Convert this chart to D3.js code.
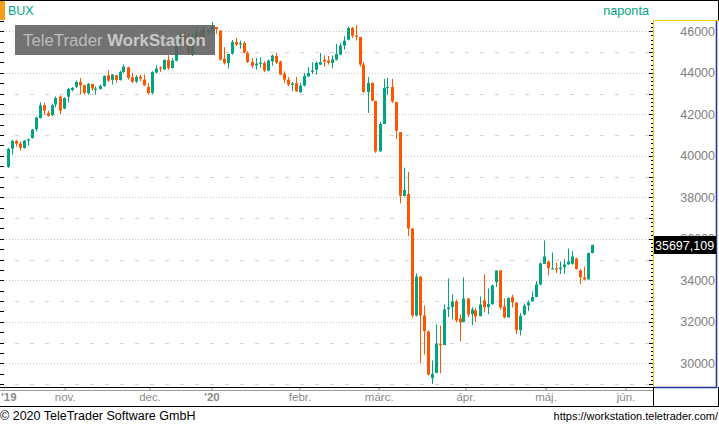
<!DOCTYPE html>
<html><head><meta charset="utf-8">
<script src="https://cdn.jsdelivr.net/npm/d3@7/dist/d3.min.js"></script>
<style>
body{margin:0;background:#fff;}
svg{display:block;}
text{font-family:"Liberation Sans",Arial,sans-serif;}
</style>
</head><body>
<svg id="c" width="719" height="425"></svg>
<script>
// ---- data (BUX daily candles) ----
const openV = [39464,40347,40716,40588,40379,40732,40861,41278,41824,42435,42065,41953,42467,42852,42274,42852,43174,43334,43559,43398,
43013,43463,43206,43222,43366,43880,43655,43880,43655,44041,44266,43784,43575,43816,43671,43318,43029,44009,44250,44169,
44619,44234,44583,45484,45822,45581,44872,45677,45966,45725,45966,46077,46207,46032,44683,44474,44924,45486,45374,45438,
44956,44522,44362,44458,44474,44105,44555,44812,44539,43960,43671,43446,43511,43061,43382,43832,44057,44153,44394,44635,
44587,44474,44635,44876,45309,45599,46161,45791,45727,44394,43077,43511,42643,40218,41535,43286,43318,42593,41147,38063,
38159,36498,32306,34185,32306,31535,29287,29528,30941,30877,32611,32708,32981,32162,31985,33125,32370,32547,32274,33029,
32708,32852,33912,34474,32740,32210,33190,32933,31600,32354,32788,32981,33190,33800,34796,34908,34539,34571,34539,34635,
34764,34796,35052,34474,34137,34041,35309];
const highV = [40380,40780,40764,40700,40764,40829,41294,41889,42579,42547,42178,42499,42852,42916,42820,43270,43318,43623,43752,43430,
43511,43479,43350,43430,43880,44105,43944,43912,44105,44394,44298,43993,43880,43912,43912,43511,44073,44362,44314,44651,
44844,44715,45450,46014,45981,45918,45918,46159,46111,46207,46077,46448,46207,46032,45229,44908,45582,45679,45550,45518,
45036,44715,44715,44747,44555,44635,44876,44972,44587,44073,43800,43559,43800,43511,43993,44266,44506,44555,44956,44844,
44812,44828,45390,45438,45759,46225,46209,46305,45727,44522,43800,43543,42643,41632,43703,43752,43703,42600,41147,39427,
39220,36498,34330,34185,32788,31584,30138,31873,31824,32836,34089,33318,33077,32354,34137,33125,32708,32676,33222,34282,
33607,33800,34474,34474,33125,33157,33302,32933,32419,32868,33029,33463,33960,34860,35920,34956,35342,34844,34908,35020,
35534,35406,35085,34555,34667,35342,35727];
const lowV = [39415,40058,40443,40251,40347,40491,40829,41182,41792,41985,41889,41921,42338,42017,42242,42563,43110,43270,42948,42948,
42948,43141,42948,43190,43318,43559,43430,43527,43623,43993,43671,43511,43511,43591,43366,42948,42981,43976,44041,44137,
44137,44201,44550,45099,45258,44858,44810,45581,45340,45677,45836,45884,45884,44587,44394,44201,44876,45293,45165,44940,
44474,44233,44153,44233,44041,44073,44346,44426,43880,43511,43350,43109,43077,43045,43350,43784,43944,43912,44378,44298,
44394,44233,44587,44844,45117,45566,45679,45550,44298,43029,42065,42627,40138,40186,41535,42933,42547,40810,37711,38029,
36135,32194,32258,30010,30427,29415,28998,29528,29528,30877,32226,32114,31985,31070,31985,32226,31840,31985,32258,32467,
32370,32820,33671,32579,32162,32210,32692,31407,31343,32290,32515,32981,33190,33752,34796,34233,34539,34346,34298,34298,
34747,34747,34523,33816,33993,34041,35309];
const closeV = [40331,40716,40588,40379,40732,40797,41262,41840,42435,42178,41921,42435,42788,42178,42788,43222,43270,43559,43398,43029,
43463,43238,43238,43366,43848,43623,43912,43655,44041,44298,43752,43559,43800,43720,43398,43013,44041,44201,44201,44619,
44234,44587,45354,45581,45436,44954,45629,45966,45581,46111,46063,46207,46111,44635,44474,44908,45486,45358,45422,44972,
44522,44330,44442,44490,44105,44587,44828,44490,43912,43671,43430,43479,43109,43382,43848,43993,44105,44474,44522,44539,
44490,44651,44908,45309,45550,46161,45791,45759,44394,43077,43511,42660,40218,41535,43270,43318,42611,41210,38077,38352,
36498,32306,34185,32306,31551,29464,29496,30941,30877,32595,32692,32981,32065,31985,33125,32354,32595,32258,32836,32708,
32852,33752,34474,32692,32210,33157,32933,31600,32290,32772,32933,33190,33800,34812,35149,34587,34571,34539,34619,34764,
34908,35149,34539,34153,34041,35309,35697.109];
const lastLabel = "35697,109";
// month ticks (position in trading-day index) and their labels
const monthTickIdx = [14.3, 35.5, 51, 73, 92.8, 114.5, 134.5, 154.5];
const monthLabels = ["nov.", "dec.", "'20", "febr.", "márc.", "ápr.", "máj.", "jún."];
const yearStartLabel = "'19";
const yTickValues = [30000, 32000, 34000, 36000, 38000, 40000, 42000, 44000, 46000];
const minorGridValues = [29000, 31000, 33000, 35000, 37000, 39000, 41000, 43000, 45000];

// ---- layout ----
const svg = d3.select("#c");
const plotR = 653, plotB = 387;
const x = d3.scaleLinear().domain([-1.875, 161.125]).range([0, 652]);
const y = d3.scaleLinear().domain([30000, 46000]).range([363.3, 31.3]);
const UP = "#00a57f", DOWN = "#ff5500";

// gridlines
const grid = svg.append("g");
grid.selectAll("line.maj").data(yTickValues).enter().append("line")
  .attr("x1", 0).attr("x2", plotR).attr("y1", d => Math.round(y(d)) + 0.5).attr("y2", d => Math.round(y(d)) + 0.5)
  .attr("stroke", "#c4c4c4").attr("stroke-dasharray", "1,2");
grid.selectAll("line.min").data(minorGridValues).enter().append("line")
  .attr("x1", 0).attr("x2", plotR).attr("y1", d => Math.round(y(d)) + 0.5).attr("y2", d => Math.round(y(d)) + 0.5)
  .attr("stroke", "#d4d4d4").attr("stroke-dasharray", "4,11");

// left ticks every 500
const leftTicks = d3.range(29000, 46600, 500);
svg.append("g").selectAll("line").data(leftTicks).enter().append("line")
  .attr("x1", 0).attr("x2", 4).attr("y1", d => Math.round(y(d)) + 0.5).attr("y2", d => Math.round(y(d)) + 0.5)
  .attr("stroke", "#000");

// candles
const idx = d3.range(openV.length);
const cg = svg.append("g");
cg.selectAll("line").data(idx).enter().append("line")
  .attr("x1", i => Math.round(x(i)) + 0.5).attr("x2", i => Math.round(x(i)) + 0.5)
  .attr("y1", i => y(highV[i])).attr("y2", i => y(lowV[i]))
  .attr("stroke", i => closeV[i] >= openV[i] ? UP : DOWN).attr("stroke-width", 1);
cg.selectAll("rect").data(idx).enter().append("rect")
  .attr("x", i => Math.round(x(i)) - 1)
  .attr("width", 3)
  .attr("y", i => y(Math.max(openV[i], closeV[i])))
  .attr("height", i => Math.max(1.2, Math.abs(y(openV[i]) - y(closeV[i]))))
  .attr("fill", i => closeV[i] >= openV[i] ? UP : DOWN);

// watermark
svg.append("rect").attr("x", 15).attr("y", 25).attr("width", 200).attr("height", 30)
  .attr("fill", "#5f5f5f").attr("opacity", 0.88);
const wm = svg.append("text").attr("x", 23).attr("y", 45.5).attr("font-size", 16.8).attr("fill", "#bcbcbc");
wm.append("tspan").text("TeleTrader ");
wm.append("tspan").attr("font-weight", "bold").attr("fill", "#c8c8c8").text("WorkStation");

// header
svg.append("line").attr("x1", 0).attr("x2", 719).attr("y1", 0.5).attr("y2", 0.5).attr("stroke", "#000");
svg.append("rect").attr("x", 0).attr("y", 1).attr("width", 5).attr("height", 19).attr("fill", "#f5a01a");
svg.append("text").attr("x", 8).attr("y", 15).attr("font-size", 12.5).attr("fill", "#00a57f").text("BUX");
svg.append("text").attr("x", 649).attr("y", 15).attr("text-anchor", "end").attr("font-size", 12.7).attr("fill", "#00a57f").text("naponta");

// right axis panel
svg.append("line").attr("x1", 718.5).attr("x2", 718.5).attr("y1", 0).attr("y2", 21).attr("stroke", "#000");
svg.append("line").attr("x1", 653).attr("x2", 719).attr("y1", 20.5).attr("y2", 20.5).attr("stroke", "#f2c400");
svg.append("line").attr("x1", 653.5).attr("x2", 653.5).attr("y1", 20).attr("y2", plotB).attr("stroke", "#f2c400");
svg.append("line").attr("x1", 716.5).attr("x2", 716.5).attr("y1", 21).attr("y2", plotB + 1).attr("stroke", "#1a3399").attr("stroke-width", 1.5);
svg.append("line").attr("x1", 654).attr("x2", 717).attr("y1", plotB + 0.5).attr("y2", plotB + 0.5).attr("stroke", "#1a3399").attr("stroke-width", 1.5);

// right ticks
const rightTicks = d3.range(29000, 46600, 200);
svg.append("g").selectAll("line").data(rightTicks).enter().append("line")
  .attr("x1", d => d % 1000 === 0 ? 649 : 651).attr("x2", 653)
  .attr("y1", d => Math.round(y(d)) + 0.5).attr("y2", d => Math.round(y(d)) + 0.5)
  .attr("stroke", "#000");

// right axis labels
const yAxis = d3.axisRight(y).tickValues(yTickValues).tickSize(0).tickFormat(d3.format("d"));
const ya = svg.append("g").attr("transform", "translate(715,0)").call(yAxis);
ya.select(".domain").remove();
ya.selectAll("text").attr("x", 0).attr("text-anchor", "end").attr("fill", "#808080")
  .attr("font-size", 12.5).attr("font-family", "'Liberation Sans',Arial,sans-serif");

// last value box (drawn over the axis label it hides, as in the reference)
const ly = y(closeV[closeV.length - 1]);
svg.append("rect").attr("x", 654).attr("y", Math.round(ly) - 9).attr("width", 62).attr("height", 18).attr("fill", "#000");
svg.append("text").attr("x", 655).attr("y", Math.round(ly) + 5).attr("font-size", 12.5).attr("fill", "#fff").text(lastLabel);

// x axis
svg.append("line").attr("x1", 0).attr("x2", 653).attr("y1", plotB + 0.5).attr("y2", plotB + 0.5).attr("stroke", "#000");
svg.append("line").attr("x1", 0).attr("x2", 653).attr("y1", plotB + 3.5).attr("y2", plotB + 3.5).attr("stroke", "#9a9a9a");
const xAxis = d3.axisBottom(x).tickValues(monthTickIdx).tickSize(2).tickFormat((d, i) => monthLabels[i]);
const xa = svg.append("g").attr("transform", `translate(0,${plotB + 1})`).call(xAxis);
xa.select(".domain").remove();
xa.selectAll(".tick line").attr("stroke", "#888");
xa.selectAll(".tick text").attr("y", 13).attr("dy", 0).attr("fill", "#8a8a8a").attr("font-size", 11.5)
  .attr("font-family", "'Liberation Sans',Arial,sans-serif")
  .attr("font-weight", (d, i) => monthLabels[i].startsWith("'") ? "bold" : "normal");
svg.append("text").attr("x", 1).attr("y", plotB + 14).attr("font-size", 11.5).attr("font-weight", "bold")
  .attr("fill", "#8a8a8a").text(yearStartLabel);
svg.append("line").attr("x1", 0).attr("x2", 719).attr("y1", 406.5).attr("y2", 406.5).attr("stroke", "#000");
svg.append("line").attr("x1", 653.5).attr("x2", 653.5).attr("y1", plotB).attr("y2", 407).attr("stroke", "#000");
svg.append("line").attr("x1", 718.5).attr("x2", 718.5).attr("y1", plotB).attr("y2", 407).attr("stroke", "#000");

// footer
svg.append("text").attr("x", 0).attr("y", 419.5).attr("font-size", 12.5).attr("fill", "#000").text("© 2020 TeleTrader Software GmbH");
svg.append("text").attr("x", 718).attr("y", 419.5).attr("text-anchor", "end").attr("font-size", 11).attr("fill", "#000").text("https://workstation.teletrader.com/");
</script>
</body></html>
